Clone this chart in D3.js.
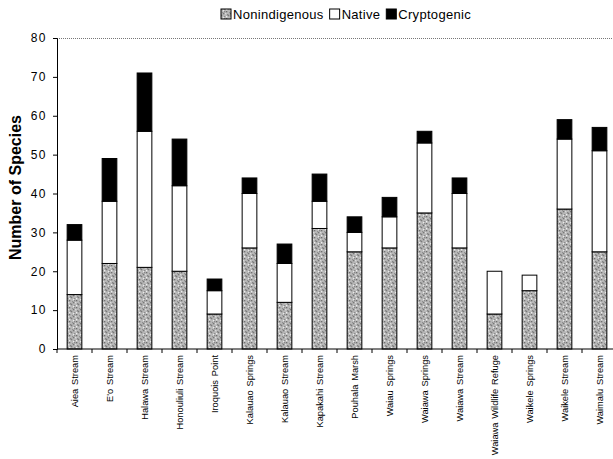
<!DOCTYPE html>
<html>
<head>
<meta charset="utf-8">
<script src="https://cdn.jsdelivr.net/npm/d3@7"></script>
<style>
  body { margin: 0; background: #fff; }
  text { font-family: "Liberation Sans", Arial, sans-serif; }
</style>
</head>
<body>
<svg id="drawing_region"></svg>
<script>
const sites = ["Aiea Stream", "E'o Stream", "Halawa Stream", "Honouliuli Stream", "Iroquois Point",
    "Kalauao Springs", "Kalauao Stream", "Kapakahi Stream", "Pouhala Marsh", "Waiau Springs",
    "Waiawa Springs", "Waiawa Stream", "Waiawa Wildlife Refuge", "Waikele Springs", "Waikele Stream", "Waimalu Stream"];
const nonindigenous = [14, 22, 21, 20, 9, 26, 12, 31, 25, 26, 35, 26, 9, 15, 36, 25];
const native = [14, 16, 35, 22, 6, 14, 10, 7, 5, 8, 18, 14, 11, 4, 18, 26];
const cryptogenic = [4, 11, 15, 12, 3, 4, 5, 7, 4, 5, 3, 4, 0, 0, 5, 6];
const seriesNames = ["Nonindigenous", "Native", "Cryptogenic"];
const yTicks = [0, 10, 20, 30, 40, 50, 60, 70, 80];

const width = 613, height = 459;
const margin = {top: 38, right: -4, bottom: 110, left: 57};
const innerW = width - margin.left - margin.right;
const innerH = height - margin.top - margin.bottom;

const svg = d3.select('#drawing_region').attr('width', width).attr('height', height);

// speckled fill for nonindigenous
const defs = svg.append('defs');
const pat = defs.append('pattern').attr('id', 'speckle')
    .attr('patternUnits', 'userSpaceOnUse').attr('width', 7).attr('height', 7);
pat.append('rect').attr('width', 7).attr('height', 7).attr('fill', '#b8b8b8');
[[0,0,'#7a7a7a'],[3,1,'#8c8c8c'],[5,3,'#6e6e6e'],[1,4,'#909090'],[4,5,'#dcdcdc'],[6,6,'#858585'],
 [2,2,'#e8e8e8'],[0,6,'#a0a0a0'],[6,0,'#9a9a9a'],[2,5,'#777'],[5,1,'#eee'],[3,3,'#888']]
  .forEach(d => pat.append('rect').attr('x', d[0]).attr('y', d[1]).attr('width', 1.3).attr('height', 1.3).attr('fill', d[2]));

const data = sites.map((s, i) => ({site: s, Nonindigenous: nonindigenous[i], Native: native[i], Cryptogenic: cryptogenic[i]}));
const stack = d3.stack().keys(seriesNames)(data);

const x = d3.scaleBand().domain(sites).range([0, innerW]).paddingInner(0.58).paddingOuter(0.29);
const y = d3.scaleLinear().domain([0, 80]).range([innerH, 0]);

const chart = svg.append('g').attr('transform', `translate(${margin.left},${margin.top})`);

// top dotted border
chart.append('line').attr('x1', 0).attr('x2', innerW).attr('y1', 0.5).attr('y2', 0.5)
    .attr('stroke', '#777').attr('stroke-dasharray', '1,1');

const fills = {Nonindigenous: 'url(#speckle)', Native: '#fff', Cryptogenic: '#000'};
chart.selectAll('g.series').data(stack).join('g').attr('class', 'series')
  .selectAll('rect').data(d => d.map(v => Object.assign(v, {key: d.key}))).join('rect')
    .filter(d => d[1] > d[0])
    .attr('x', d => x(d.data.site))
    .attr('y', d => y(d[1]))
    .attr('width', x.bandwidth())
    .attr('height', d => y(d[0]) - y(d[1]))
    .attr('fill', d => fills[d.key])
    .attr('stroke', '#000').attr('stroke-width', 1);

// y axis
const yAxis = chart.append('g')
    .call(d3.axisLeft(y).tickValues(yTicks).tickSize(4).tickPadding(6));
yAxis.select('.domain').attr('stroke', '#000');
yAxis.selectAll('text').attr('font-size', 12).style('letter-spacing', '1.5px').attr('fill', '#000');

// x axis with ticks between categories
const xg = chart.append('g').attr('transform', `translate(0,${innerH})`);
xg.append('line').attr('x1', 0).attr('x2', innerW).attr('stroke', '#000');
const step = x.step();
xg.selectAll('line.tk').data(d3.range(sites.length + 1)).join('line').attr('class', 'tk')
    .attr('x1', i => x(sites[0]) - (step - x.bandwidth()) / 2 + i * step)
    .attr('x2', i => x(sites[0]) - (step - x.bandwidth()) / 2 + i * step)
    .attr('y1', 0).attr('y2', 4).attr('stroke', '#000');
xg.selectAll('text').data(sites).join('text')
    .attr('transform', d => `translate(${x(d) + x.bandwidth() / 2 + 3.5},6) rotate(-90)`)
    .attr('text-anchor', 'end')
    .attr('font-size', 9.3)
    .style('word-spacing', '1.2px')
    .text(d => d);

// y axis title
svg.append('text')
    .attr('transform', `translate(21,${margin.top + innerH / 2 - 6}) rotate(-90)`)
    .attr('text-anchor', 'middle')
    .attr('font-size', 16).attr('font-weight', 'bold')
    .text('Number of Species');

// legend
const legend = svg.append('g').attr('transform', 'translate(221,8)');
let lx = 0;
seriesNames.forEach(k => {
  legend.append('rect').attr('x', lx).attr('y', 1).attr('width', 10).attr('height', 10)
      .attr('fill', fills[k]).attr('stroke', '#000');
  const t = legend.append('text').attr('x', lx + 12).attr('y', 11).attr('font-size', 13)
      .style('letter-spacing', '0.3px').text(k);
  lx += 12 + t.node().getComputedTextLength() + 6;
});
</script>
</body>
</html>
